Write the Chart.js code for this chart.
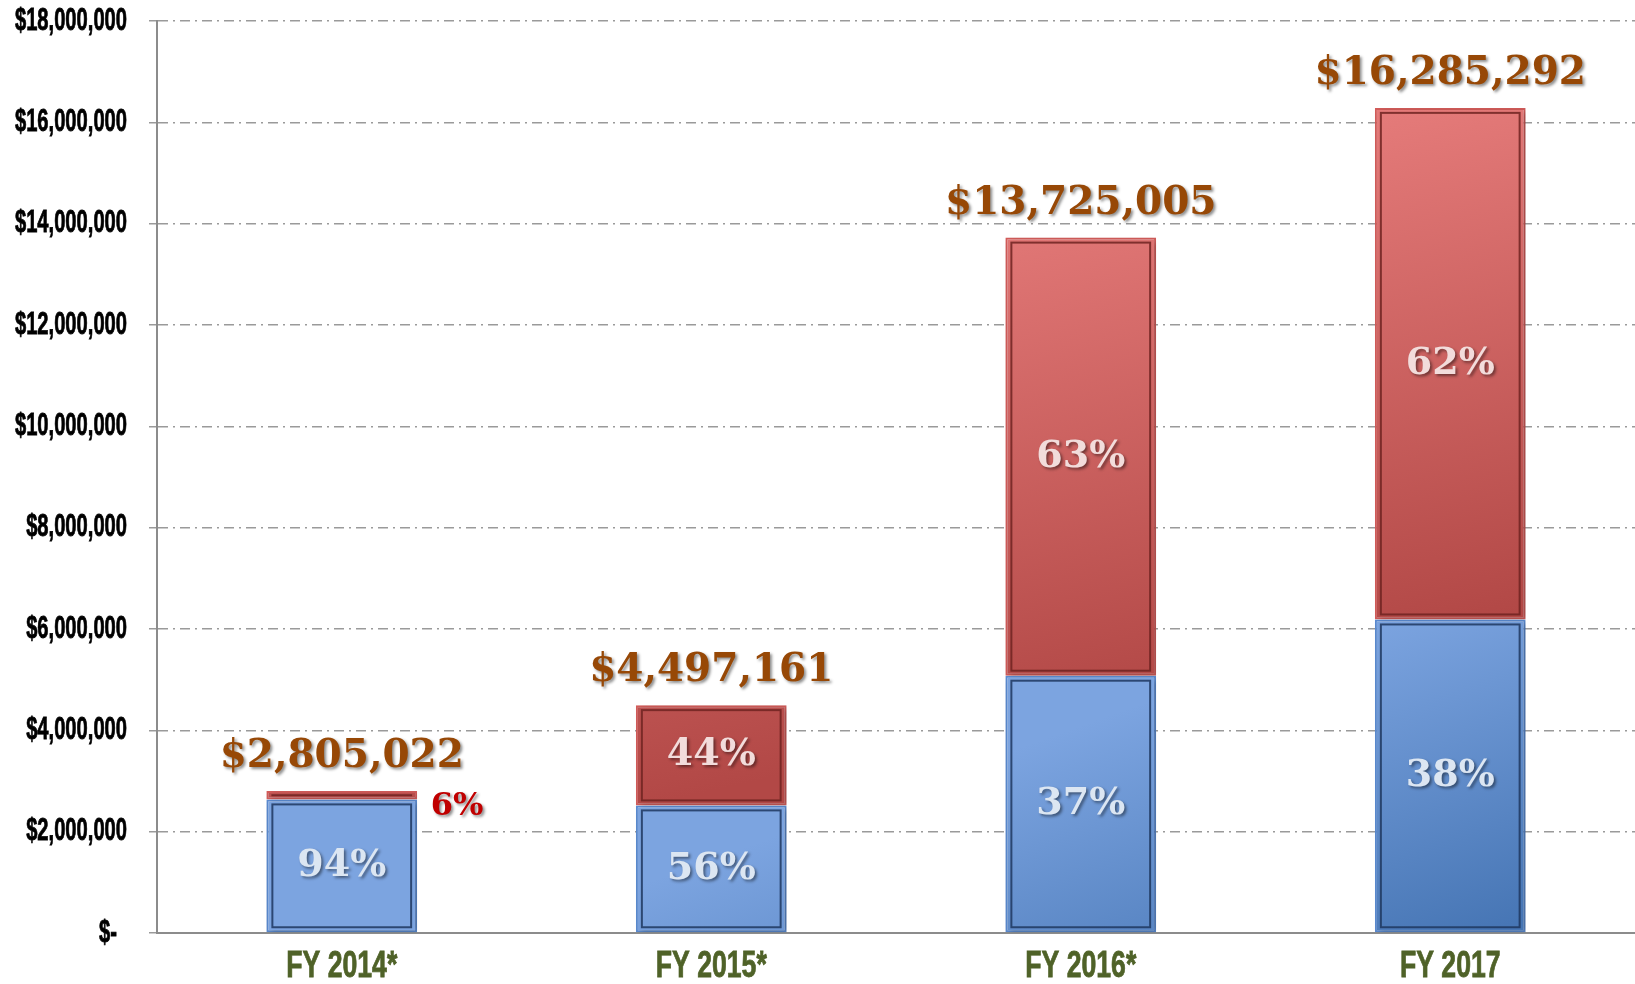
<!DOCTYPE html>
<html>
<head>
<meta charset="utf-8">
<script src="https://cdn.jsdelivr.net/npm/chart.js@4"></script>
<style>
  html, body { margin: 0; padding: 0; background: #fff; }
  #wrap { width: 1635px; height: 984px; }
</style>
</head>
<body>
<div id="wrap"><canvas id="fundingChart"></canvas></div>
<script>
// Fiscal years and funding split
const years = ['FY 2014*', 'FY 2015*', 'FY 2016*', 'FY 2017'];
const blueValues = [2636721, 2518410, 5078252, 6188411];
const redValues = [168301, 1978751, 8646753, 10096881];
const totalLabels = ['$2,805,022', '$4,497,161', '$13,725,005', '$16,285,292'];
const bluePct = ['94%', '56%', '37%', '38%'];
const redPct = ['6%', '44%', '63%', '62%'];

const serif = '"DejaVu Serif", "Liberation Serif", serif';
const sans = '"Liberation Sans", Arial, sans-serif';

// per-bar gradients
const fills = [
  ['#7ca4e0', '#4776b5'],
  ['#e57b7a', '#b24846']
];
const innerLines = ['rgba(30,55,95,0.85)', 'rgba(110,35,33,0.85)'];

// narrow, tall axis text: squeeze horizontally
function narrowText(ctx, text, x, y, size, sx, align, color) {
  ctx.save();
  ctx.font = 'bold ' + size + 'px ' + sans;
  ctx.fillStyle = color;
  ctx.strokeStyle = color;
  ctx.lineWidth = 0.8;
  ctx.textAlign = align;
  ctx.textBaseline = 'middle';
  ctx.translate(x, y);
  ctx.scale(sx, 1);
  ctx.fillText(text, 0, 0);
  ctx.strokeText(text, 0, 0);
  ctx.restore();
}

const axisLabels = {
  id: 'axisLabels',
  afterDraw(chart) {
    const ctx = chart.ctx;
    const y = chart.scales.y;
    y.ticks.forEach((t, i) => {
      const py = y.getPixelForTick(i);
      const text = t.value === 0 ? '$-' : '$' + t.value.toLocaleString('en-US');
      narrowText(ctx, text, t.value === 0 ? 117 : 127, py, 31, 0.65, 'right', '#000');
    });
    const x = chart.scales.x;
    years.forEach((lab, i) => {
      narrowText(ctx, lab, x.getPixelForTick(i), 967, 37, 0.72, 'center', '#4f6228');
    });
  }
};

const barStyle = {
  id: 'barStyle',
  beforeDatasetsDraw(chart) {
    const ctx = chart.ctx;
    chart.data.datasets.forEach((ds, di) => {
      chart.getDatasetMeta(di).data.forEach(bar => {
        const p = bar.getProps(['x', 'y', 'base', 'width'], true);
        const g = ctx.createLinearGradient(p.x - p.width / 2, Math.min(p.y, p.base), p.x + p.width / 4, Math.max(p.y, p.base));
        g.addColorStop(0, fills[di][0]);
        g.addColorStop(1, fills[di][1]);
        bar.options.backgroundColor = g;
      });
    });
  },
  beforeDatasetDraw(chart) {
    const ctx = chart.ctx;
    ctx.save();
    ctx.shadowColor = 'rgba(0,0,0,0.25)';
    ctx.shadowBlur = 6;
    ctx.shadowOffsetX = 3;
    ctx.shadowOffsetY = 2;
  },
  afterDatasetDraw(chart, args) {
    const ctx = chart.ctx;
    ctx.restore();
    // inner bevel line
    ctx.save();
    ctx.strokeStyle = innerLines[args.index];
    ctx.lineWidth = 2;
    args.meta.data.forEach(bar => {
      const p = bar.getProps(['x', 'y', 'base', 'width'], true);
      const top = Math.min(p.y, p.base) + 5;
      const bottom = Math.max(p.y, p.base) - 5;
      if (bottom - top < 2) {
        ctx.beginPath();
        ctx.moveTo(p.x - p.width / 2 + 5, (top + bottom) / 2);
        ctx.lineTo(p.x + p.width / 2 - 5, (top + bottom) / 2);
        ctx.stroke();
        return;
      }
      ctx.strokeRect(p.x - p.width / 2 + 6, top, p.width - 12, bottom - top);
    });
    ctx.restore();
  }
};

const valueLabels = {
  id: 'valueLabels',
  afterDatasetsDraw(chart) {
    const ctx = chart.ctx;
    const blueMeta = chart.getDatasetMeta(0).data;
    const redMeta = chart.getDatasetMeta(1).data;
    ctx.save();
    ctx.textAlign = 'center';
    ctx.textBaseline = 'middle';
    ctx.shadowColor = 'rgba(0,0,0,0.45)';
    ctx.shadowBlur = 3;
    ctx.shadowOffsetX = 2;
    ctx.shadowOffsetY = 2;
    blueMeta.forEach((bar, i) => {
      ctx.font = 'bold 38px ' + serif;
      // segment percentages
      ctx.fillStyle = '#dce6f2';
      ctx.fillText(bluePct[i], bar.x, (bar.y + bar.base) / 2);
      const red = redMeta[i];
      if (red.base - red.y > 30) {
        ctx.fillStyle = '#f2dcdb';
        ctx.fillText(redPct[i], red.x, (red.y + red.base) / 2);
      } else {
        ctx.fillStyle = '#c00000';
        ctx.font = 'bold 32px ' + serif;
        ctx.fillText(redPct[i], red.x + red.width / 2 + 40, red.base + 7);
      }
      // totals above each stack
      ctx.font = 'bold 39px ' + serif;
      ctx.fillStyle = '#974806';
      ctx.fillText(totalLabels[i], red.x, red.y - 34);
    });
    ctx.restore();
  }
};

new Chart(document.getElementById('fundingChart'), {
  type: 'bar',
  data: {
    labels: years,
    datasets: [
      {
        data: blueValues,
        backgroundColor: '#6690cf',
        borderColor: '#5a8ad0',
        borderWidth: 2,
        borderSkipped: false,
        categoryPercentage: 0.8,
        barPercentage: 0.51
      },
      {
        data: redValues,
        backgroundColor: '#d06462',
        borderColor: '#d35c5a',
        borderWidth: 2,
        borderSkipped: false,
        categoryPercentage: 0.8,
        barPercentage: 0.51
      }
    ]
  },
  options: {
    responsive: true,
    maintainAspectRatio: false,
    animation: false,
    layout: { padding: { top: 21, right: 0, bottom: 0, left: 0 } },
    plugins: {
      legend: { display: false },
      tooltip: { enabled: false }
    },
    scales: {
      x: {
        stacked: true,
        grid: { display: false, drawTicks: false },
        border: { color: '#8c8c8c', width: 2 },
        ticks: { display: false },
        afterFit(scale) { scale.height = 51; }
      },
      y: {
        stacked: true,
        min: 0,
        max: 18000000,
        grid: {
          color: '#9a9a9a',
          lineWidth: 1.5,
          tickLength: 8,
          tickBorderDash: [10, 5, 2, 5],
          tickColor: '#9a9a9a'
        },
        border: { color: '#8c8c8c', width: 2, dash: [10, 5, 2, 5] },
        ticks: { display: false, stepSize: 2000000 },
        afterFit(scale) { scale.width = 157; }
      }
    }
  },
  plugins: [barStyle, valueLabels, axisLabels]
});
</script>
</body>
</html>
